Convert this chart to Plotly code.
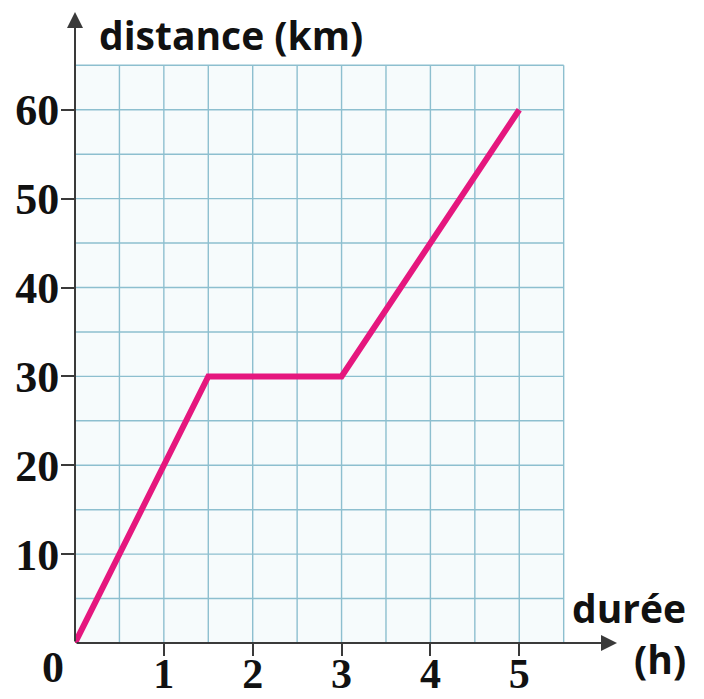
import plotly.graph_objects as go
import numpy as np

# Data
time_h = [0, 1.5, 3, 5]
distance_km = [0, 30, 30, 60]

x_ticks = [1, 2, 3, 4, 5]
x_tick_labels = ["1", "2", "3", "4", "5"]
y_ticks = [10, 20, 30, 40, 50, 60]
y_tick_labels = ["10", "20", "30", "40", "50", "60"]

grid_x_step = 0.5
grid_y_step = 5
grid_x_max = 5.5
grid_y_max = 65

x_axis_end = 6.1
y_axis_end = 71

grid_color = "#8dbfcf"
line_color = "#e5177e"
axis_color = "#3a3a3a"

fig = go.Figure()

shapes = []
shapes.append(dict(type="rect", xref="x", yref="y", x0=0, x1=grid_x_max, y0=0, y1=grid_y_max,
                   fillcolor="#f6fbfc", line=dict(width=0), layer="below"))
for gx in np.arange(grid_x_step, grid_x_max + 1e-9, grid_x_step):
    shapes.append(dict(type="line", xref="x", yref="y", x0=gx, x1=gx, y0=0, y1=grid_y_max,
                       line=dict(color=grid_color, width=1.4), layer="below"))
for gy in np.arange(grid_y_step, grid_y_max + 1e-9, grid_y_step):
    shapes.append(dict(type="line", xref="x", yref="y", x0=0, x1=grid_x_max, y0=gy, y1=gy,
                       line=dict(color=grid_color, width=1.4), layer="below"))

fig.add_trace(go.Scatter(x=time_h, y=distance_km, mode="lines",
                         line=dict(color=line_color, width=6), hoverinfo="skip",
                         cliponaxis=False))

label_font = dict(family="Open Sans", size=39, color="#111111", weight="bold")
num_font = dict(family="Liberation Serif", size=44, color="#111111", weight="bold")
xnum_font = dict(family="Liberation Serif", size=42, color="#111111", weight="bold")

annotations = [
    dict(x=x_axis_end, y=0, ax=0, ay=0, xref="x", yref="y", axref="x", ayref="y",
         showarrow=True, arrowhead=2, arrowsize=1.6, arrowwidth=2, arrowcolor=axis_color,
         text="", standoff=0, startstandoff=0),
    dict(x=0, y=y_axis_end, ax=0, ay=0, xref="x", yref="y", axref="x", ayref="y",
         showarrow=True, arrowhead=2, arrowsize=1.6, arrowwidth=2, arrowcolor=axis_color,
         text="", standoff=0, startstandoff=0),
    dict(x=0.041, y=0.9636, xref="paper", yref="paper", text="distance (km)", showarrow=False,
         xanchor="left", yanchor="middle", font=label_font),
    dict(x=1.131, y=0.016, xref="paper", yref="paper", text="durée<br>(h)", showarrow=False,
         xanchor="right", yanchor="middle", align="right", font=label_font),
    dict(x=-0.0406, y=-0.0396, xref="paper", yref="paper", text="0", showarrow=False,
         xanchor="center", yanchor="middle", font=num_font),
]

fig.update_layout(
    width=690, height=691,
    margin=dict(l=67, r=81, t=4, b=56),
    paper_bgcolor="white", plot_bgcolor="white",
    showlegend=False,
    shapes=shapes,
    annotations=annotations,
    xaxis=dict(range=[0, x_axis_end], tickvals=x_ticks, ticktext=x_tick_labels,
               showgrid=False, zeroline=False, showline=False, automargin=False,
               ticks="outside", ticklen=12, tickwidth=2, tickcolor=axis_color,
               ticklabelstandoff=-18,
               tickfont=xnum_font, fixedrange=True),
    yaxis=dict(range=[0, y_axis_end], tickvals=y_ticks, ticktext=y_tick_labels,
               showgrid=False, zeroline=False, showline=False, automargin=False,
               ticks="outside", ticklen=13, tickwidth=2, tickcolor=axis_color,
               ticklabelstandoff=-7,
               tickfont=num_font, fixedrange=True),
)

fig.write_html("out.html")
